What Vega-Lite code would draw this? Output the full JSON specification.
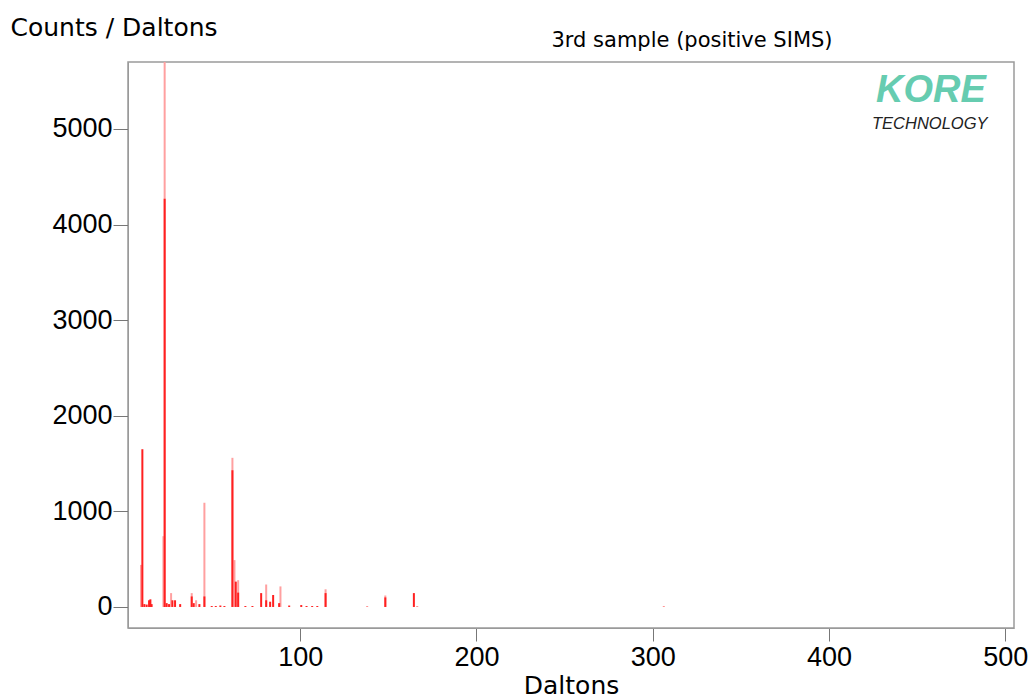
{
  "$schema": "https://vega.github.io/schema/vega-lite/v6.json",
  "autosize": {"type": "none"},
  "width": 886,
  "height": 566,
  "padding": {"left": 128, "top": 62, "right": 16, "bottom": 70},
  "background": "white",
  "config": {
    "font": "Liberation Sans",
    "view": {"stroke": "#9a9a9a", "strokeWidth": 1.5},
    "axis": {"grid": false, "domainColor": "#9a9a9a", "tickColor": "#777", "labelColor": "#000", "titleColor": "#000", "labelFont": "Liberation Sans", "titleFont": "DejaVu Sans", "titleFontWeight": "normal"}
  },
  "title": {"text": "3rd sample (positive SIMS)", "fontSize": 21, "fontWeight": "normal", "font": "DejaVu Sans", "anchor": "middle", "dx": 121, "dy": 50, "offset": 14, "color": "#000"},
  "datasets": {
    "peaks": [
      {"mass": 9.7, "counts": 440, "shade": "light"},
      {"mass": 10.45, "counts": 1650, "shade": "dark"},
      {"mass": 11.6, "counts": 30, "shade": "dark"},
      {"mass": 12.9, "counts": 25, "shade": "dark"},
      {"mass": 14.25, "counts": 70, "shade": "dark"},
      {"mass": 15.0, "counts": 80, "shade": "dark"},
      {"mass": 15.7, "counts": 30, "shade": "dark"},
      {"mass": 22.4, "counts": 740, "shade": "light"},
      {"mass": 23.1, "counts": 6500, "shade": "light"},
      {"mass": 23.1, "counts": 4270, "shade": "dark"},
      {"mass": 24.25, "counts": 40, "shade": "dark"},
      {"mass": 25.6, "counts": 30, "shade": "dark"},
      {"mass": 26.75, "counts": 145, "shade": "light"},
      {"mass": 27.5, "counts": 70, "shade": "dark"},
      {"mass": 29.0, "counts": 70, "shade": "dark"},
      {"mass": 31.9, "counts": 30, "shade": "dark"},
      {"mass": 38.45, "counts": 145, "shade": "light"},
      {"mass": 38.45, "counts": 110, "shade": "dark"},
      {"mass": 39.6, "counts": 40, "shade": "dark"},
      {"mass": 40.95, "counts": 70, "shade": "light"},
      {"mass": 42.8, "counts": 30, "shade": "dark"},
      {"mass": 45.65, "counts": 1090, "shade": "light"},
      {"mass": 45.65, "counts": 110, "shade": "dark"},
      {"mass": 49.8, "counts": 10, "shade": "dark"},
      {"mass": 52.1, "counts": 10, "shade": "dark"},
      {"mass": 54.7, "counts": 15, "shade": "dark"},
      {"mass": 57.0, "counts": 10, "shade": "dark"},
      {"mass": 61.55, "counts": 1560, "shade": "light"},
      {"mass": 61.55, "counts": 1430, "shade": "dark"},
      {"mass": 62.7, "counts": 490, "shade": "light"},
      {"mass": 63.45, "counts": 265, "shade": "dark"},
      {"mass": 64.8, "counts": 280, "shade": "light"},
      {"mass": 64.8, "counts": 150, "shade": "dark"},
      {"mass": 68.9, "counts": 10, "shade": "dark"},
      {"mass": 72.9, "counts": 10, "shade": "dark"},
      {"mass": 77.85, "counts": 145, "shade": "dark"},
      {"mass": 80.7, "counts": 235, "shade": "light"},
      {"mass": 80.7, "counts": 70, "shade": "dark"},
      {"mass": 82.95, "counts": 55, "shade": "dark"},
      {"mass": 84.65, "counts": 125, "shade": "dark"},
      {"mass": 88.05, "counts": 40, "shade": "dark"},
      {"mass": 88.8, "counts": 215, "shade": "light"},
      {"mass": 93.75, "counts": 15, "shade": "dark"},
      {"mass": 100.6, "counts": 20, "shade": "dark"},
      {"mass": 103.6, "counts": 10, "shade": "dark"},
      {"mass": 106.8, "counts": 10, "shade": "dark"},
      {"mass": 109.7, "counts": 10, "shade": "dark"},
      {"mass": 114.4, "counts": 185, "shade": "light"},
      {"mass": 114.4, "counts": 145, "shade": "dark"},
      {"mass": 138.0, "counts": 5, "shade": "dark"},
      {"mass": 148.3, "counts": 120, "shade": "light"},
      {"mass": 148.3, "counts": 100, "shade": "dark"},
      {"mass": 164.5, "counts": 145, "shade": "dark"},
      {"mass": 166.4, "counts": 5, "shade": "dark"},
      {"mass": 306.3, "counts": 5, "shade": "dark"}
    ]
  },
  "layer": [
    {
      "mark": {"type": "rule", "color": "#ffb3b3", "strokeWidth": 2},
      "encoding": {"y": {"datum": 0, "type": "quantitative", "scale": {"domain": [-220, 5700], "nice": false, "zero": false}}}
    },
    {
      "data": {"name": "peaks"},
      "transform": [{"filter": "datum.shade === 'light'"}],
      "mark": {"type": "rule", "color": "#ffa0a0", "strokeWidth": 2, "clip": true},
      "encoding": {
        "x": {"field": "mass", "type": "quantitative"},
        "y": {"field": "counts", "type": "quantitative"},
        "y2": {"datum": 0}
      }
    },
    {
      "data": {"name": "peaks"},
      "transform": [{"filter": "datum.shade === 'dark'"}],
      "mark": {"type": "rule", "color": "#ff2020", "strokeWidth": 2, "clip": true},
      "encoding": {
        "x": {"field": "mass", "type": "quantitative", "title": "Daltons",
              "scale": {"domain": [2.3, 505], "nice": false, "zero": false},
              "axis": {"values": [100, 200, 300, 400, 500], "format": "d", "labelFontSize": 27, "tickSize": 13, "labelPadding": 3, "titleFontSize": 25, "titlePadding": 3}},
        "y": {"field": "counts", "type": "quantitative", "title": "Counts / Daltons",
              "scale": {"domain": [-220, 5700], "nice": false, "zero": false},
              "axis": {"values": [0, 1000, 2000, 3000, 4000, 5000], "format": "d", "labelFontSize": 27, "tickSize": 15, "labelPadding": 1, "titleFontSize": 25, "titleAngle": 0, "titleAlign": "left", "titleBaseline": "alphabetic", "titleX": -118, "titleY": -27}},
        "y2": {"datum": 0}
      }
    },
    {
      "data": {"values": [{"mass": 489, "counts": 5277, "label": "KORE"}]},
      "mark": {"type": "text", "align": "right", "baseline": "alphabetic", "font": "Liberation Sans", "fontSize": 38, "fontWeight": "bold", "fontStyle": "italic", "color": "#66ccb0"},
      "encoding": {
        "x": {"field": "mass", "type": "quantitative"},
        "y": {"field": "counts", "type": "quantitative"},
        "text": {"field": "label"}
      }
    },
    {
      "data": {"values": [{"mass": 490, "counts": 5000, "label": "TECHNOLOGY"}]},
      "mark": {"type": "text", "align": "right", "baseline": "alphabetic", "font": "Liberation Sans", "fontSize": 16.5, "fontStyle": "italic", "color": "#222"},
      "encoding": {
        "x": {"field": "mass", "type": "quantitative"},
        "y": {"field": "counts", "type": "quantitative"},
        "text": {"field": "label"}
      }
    }
  ]
}
